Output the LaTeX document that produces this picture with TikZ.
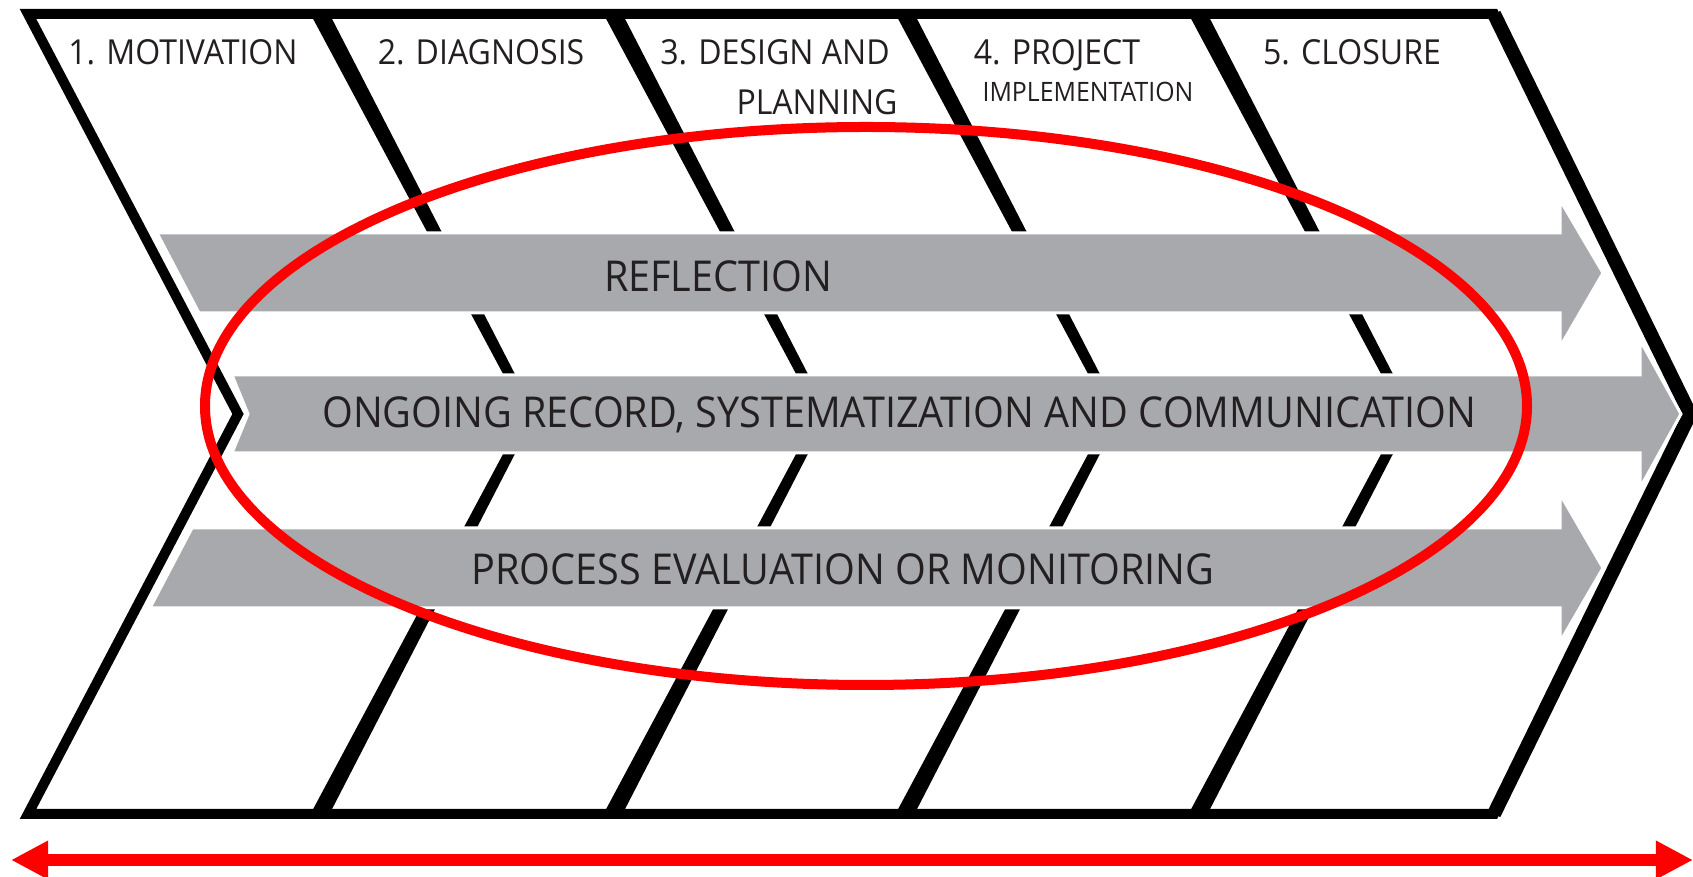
\documentclass[tikz,border=0pt]{standalone}
\usepackage{fontspec}
\setmainfont{Open Sans}[FakeStretch=0.93]
\usetikzlibrary{arrows.meta}

\definecolor{bandgray}{HTML}{A7A9AC}
\definecolor{inkgray}{HTML}{231F20}

\begin{document}
\begin{tikzpicture}[x=0.01cm, y=-0.01cm,
    frame/.style={line width=0.1cm, line join=miter},
    band/.style={fill=bandgray, draw=white, line width=0.03cm},
    bandtext/.style={font=\fontsize{12.1}{14}\selectfont, text=inkgray, inner sep=0pt, anchor=base},
    phase/.style={font=\fontsize{9.8}{12}\selectfont, text=inkgray, inner sep=0pt, anchor=base},
    phasesmall/.style={phase, font=\fontsize{7.6}{9}\selectfont},
    focus/.style={draw=red, line width=0.1cm},
    span/.style={draw=red, line width=0.12cm, {Triangle[length=0.37cm,width=0.36cm]}-{Triangle[length=0.37cm,width=0.36cm]}}]
    \useasboundingbox (0,0) rectangle (1693,877);

    % outer chevron
    \coordinate (tl) at (28,14);
    \coordinate (tr) at (1494,14);
    \coordinate (tip) at (1690,414);
    \coordinate (br) at (1494,814);
    \coordinate (bl) at (28,814);
    \coordinate (notch) at (238,414);
    \draw[frame] (tl) -- (tr) -- (tip) -- (br) -- (bl) -- (notch) -- cycle;
    \draw[frame, line width=0.14cm] (tr) -- (tip) -- (br);

    % phase dividers, thinner towards the middle
    \foreach \x in {320,613,905,1198} {
        \fill[black] (\x-9.5,14) -- (\x+9.5,14) -- (\x+215.5,414) -- (\x+9.5,814)
            -- (\x-9.5,814) -- (\x+204.5,414) -- cycle;
    }

    % grey arrows
    \draw[band] (157,233) -- (1560,233) -- (1560,200) -- (1603,273) -- (1560,347)
        -- (1560,313) -- (199,313) -- cycle;
    \draw[band] (232,375) -- (1640,375) -- (1640,340) -- (1681,414) -- (1640,488)
        -- (1640,453) -- (232,453) -- (248,414) -- cycle;
    \draw[band] (192,528) -- (1560,528) -- (1560,494) -- (1603,568) -- (1560,642)
        -- (1560,608) -- (150,608) -- cycle;

    \node[bandtext] (refl) at (718,292) {REFLECTION};
    \node[bandtext] (rec) at (899,428) {ONGOING RECORD, SYSTEMATIZATION AND COMMUNICATION};
    \node[bandtext] (eval) at (843,585) {PROCESS EVALUATION OR MONITORING};

    % phase titles
    \node[phase] (motiv) at (183,65) {1. MOTIVATION};
    \node[phase] (diag) at (481,65) {2. DIAGNOSIS};
    \node[phase] (design) at (775,65) {3. DESIGN AND};
    \node[phase] (plan) at (817,115) {PLANNING};
    \node[phase] (proj) at (1057,65) {4. PROJECT};
    \node[phasesmall] (impl) at (1088,102) {IMPLEMENTATION};
    \node[phase] (close) at (1352,65) {5. CLOSURE};

    % red marks
    \draw[focus] (866,406) ellipse [x radius=661, y radius=279];
    \coordinate (spanL) at (11,860);
    \coordinate (spanR) at (1693,860);
    \draw[span] (spanL) -- (spanR);
\end{tikzpicture}
\end{document}
